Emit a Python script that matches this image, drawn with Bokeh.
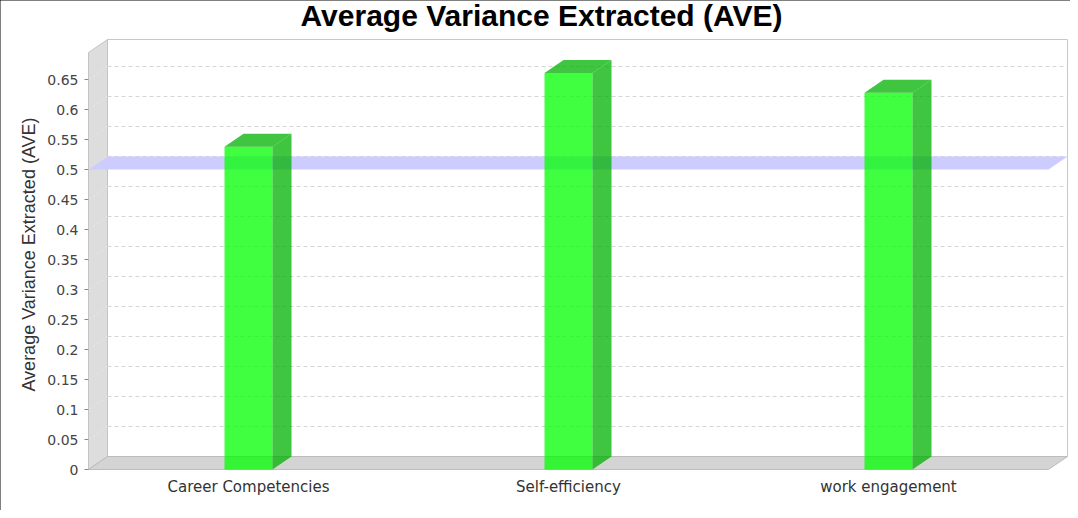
import math
from bokeh.plotting import figure
from bokeh.models import Range1d, FixedTicker
from bokeh.core.properties import value
from bokeh.embed import file_html
from bokeh.resources import INLINE

# ---- data ----
title_text = "Average Variance Extracted (AVE)"
y_label_text = "Average Variance Extracted (AVE)"
categories = ["Career Competencies", "Self-efficiency", "work engagement"]
ave_values = [0.538, 0.661, 0.628]
threshold = 0.5
y_ticks = [0, 0.05, 0.1, 0.15, 0.2, 0.25, 0.3, 0.35, 0.4, 0.45, 0.5, 0.55, 0.6, 0.65]
y_tick_labels = ["0", "0.05", "0.1", "0.15", "0.2", "0.25", "0.3", "0.35", "0.4",
                 "0.45", "0.5", "0.55", "0.6", "0.65"]
y_axis_max = 0.695

# ---- geometry / style constants (pixels) ----
W, H = 1070, 510
X0, Y0 = 88, 469          # canvas position of the front-left origin (value 0)
PX_X = 320.0              # pixels per category
PX_Y = 600.0              # pixels per value unit
DX = 19 / PX_X            # 3D depth offset (x)
DY = 13 / PX_Y            # 3D depth offset (y)
BH = 0.075                # half bar width
n = len(categories)
xc = [i + 0.5 for i in range(n)]


def sx(px):   # canvas px -> x data
    return (px - X0) / PX_X


def sy(py):   # canvas px -> y data
    return (Y0 - py) / PX_Y


p = figure(width=W, height=H,
           x_range=Range1d(sx(0), sx(W)), y_range=Range1d(sy(H), sy(0)),
           output_backend="svg", toolbar_location=None, min_border=0)
p.outline_line_color = None
p.xgrid.visible = False
p.ygrid.visible = False
p.background_fill_color = "white"
p.border_fill_color = "white"
p.styles = {"outline": "2px solid black", "outline-offset": "-2px"}

# back wall
p.quad(left=DX, right=n + DX, bottom=DY, top=y_axis_max + DY,
       fill_color="white", line_color="#c8c8c8", line_width=1)
# left wall
p.patch([0, DX, DX, 0], [0, DY, y_axis_max + DY, y_axis_max],
        fill_color="#dddddd", line_color="#c4c4c4", line_width=1)
# floor
p.patch([0, n, n + DX, DX], [0, 0, DY, DY],
        fill_color="#d4d4d4", line_color="#bcbcbc", line_width=1)

# gridlines
gt = [v for v in y_ticks if v > 0]
p.segment(x0=[DX] * len(gt), y0=[v + DY for v in gt],
          x1=[n + DX] * len(gt), y1=[v + DY for v in gt],
          line_color="#d6d6d6", line_dash="4 3", line_width=1)
p.segment(x0=[0] * len(gt), y0=gt, x1=[DX] * len(gt), y1=[v + DY for v in gt],
          line_color="#e6e6e6", line_dash="3 2", line_width=1)

# threshold band
p.patch([0, DX, n + DX, n], [threshold, threshold + DY, threshold + DY, threshold],
        fill_color="#ccccff", line_color=None)

# bars: front faces
p.quad(left=[c - BH for c in xc], right=[c + BH for c in xc],
       bottom=0, top=ave_values,
       fill_color="#00ff00", fill_alpha=0.75, line_color=None)
# side faces
side_xs = [[c + BH, c + BH + DX, c + BH + DX, c + BH] for c in xc]
side_ys = [[0, DY, v + DY, v] for v in ave_values]
p.patches(side_xs, side_ys, fill_color="#00b200", fill_alpha=0.75, line_color=None)
# top faces
top_xs = [[c - BH, c - BH + DX, c + BH + DX, c + BH] for c in xc]
top_ys = [[v, v + DY, v + DY, v] for v in ave_values]
p.patches(top_xs, top_ys, fill_color="#00b200", fill_alpha=0.75, line_color=None)

# x axis (fixed at value 0)
xa = p.xaxis[0]
xa.fixed_location = 0
xa.ticker = FixedTicker(ticks=xc)
xa.major_label_overrides = {x: c for x, c in zip(xc, categories)}
xa.axis_line_color = None
xa.major_tick_line_color = None
xa.minor_tick_line_color = None
xa.major_label_text_font = "DejaVu Sans"
xa.major_label_text_font_size = "15px"
xa.major_label_text_color = "#333333"
xa.major_label_standoff = 2

# y axis (fixed at front-left edge)
ya = p.yaxis[0]
ya.fixed_location = 0
ya.ticker = FixedTicker(ticks=y_ticks)
ya.major_label_overrides = {t_: s for t_, s in zip(y_ticks, y_tick_labels)}
ya.axis_line_color = None
ya.major_tick_in = 0
ya.major_tick_out = 4
ya.major_tick_line_color = "#888888"
ya.minor_tick_line_color = None
ya.major_label_text_font = "DejaVu Sans"
ya.major_label_text_font_size = "14px"
ya.major_label_text_color = "#444444"
ya.major_label_standoff = 6

# y axis title (rotated)
p.text(x=[sx(28)], y=[sy(254)], text=[y_label_text], angle=math.pi / 2,
       text_align="center", text_baseline="middle",
       text_font=value("Liberation Sans"), text_font_size="18px",
       text_color="#333333")

# chart title
p.text(x=[sx(541)], y=[sy(15)], text=[title_text],
       text_align="center", text_baseline="middle",
       text_font=value("Liberation Sans"), text_font_style="bold",
       text_font_size="30px", text_color="black")

open("out.html", "w").write(file_html(p, INLINE))
